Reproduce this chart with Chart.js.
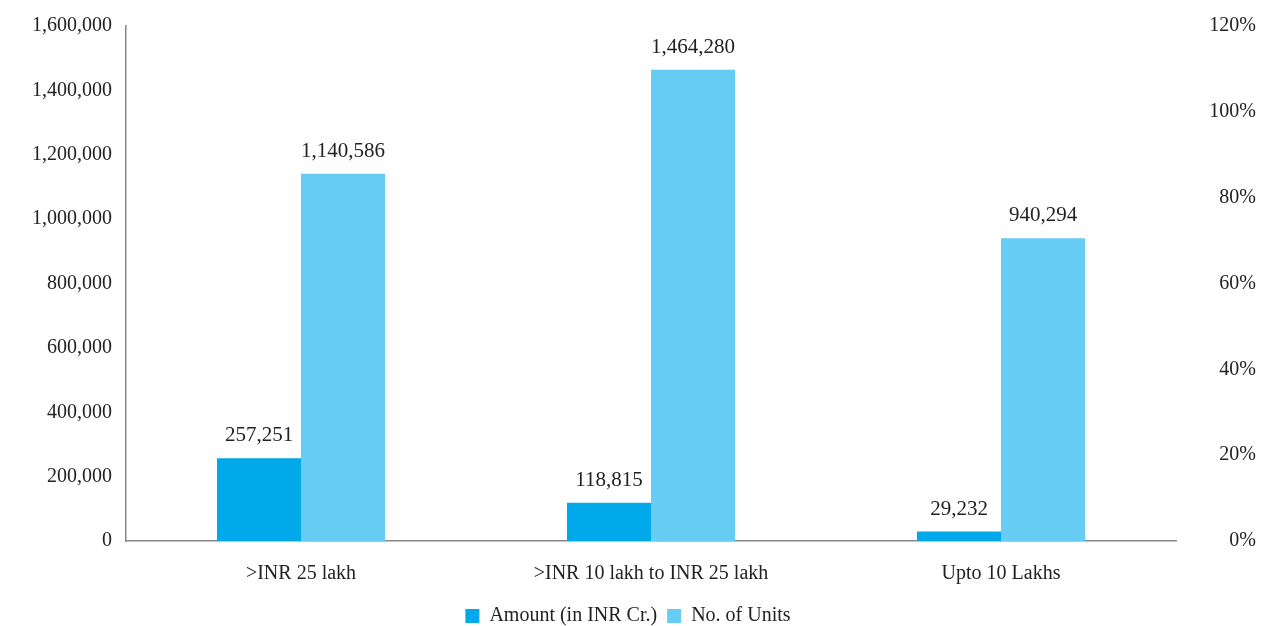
<!DOCTYPE html>
<html>
<head>
<meta charset="utf-8">
<script src="https://cdn.jsdelivr.net/npm/chart.js@4/dist/chart.umd.min.js"></script>
<style>
  html, body { margin: 0; padding: 0; background: #fff; }
  #wrap { width: 1266px; height: 626px; }
</style>
</head>
<body>
<div id="wrap"><canvas id="chart"></canvas></div>
<script>
const categories = ['>INR 25 lakh', '>INR 10 lakh to INR 25 lakh', 'Upto 10 Lakhs'];
const amount = [257251, 118815, 29232];
const units = [1140586, 1464280, 940294];
const leftTicks = [0, 200000, 400000, 600000, 800000, 1000000, 1200000, 1400000, 1600000];
const rightTicks = [0, 20, 40, 60, 80, 100, 120];

const fontFamily = "'Liberation Serif', 'DejaVu Serif', serif";

// labels above each bar
const barLabels = {
  id: 'barLabels',
  afterDatasetsDraw(chart) {
    const ctx = chart.ctx;
    ctx.save();
    ctx.font = '21px ' + fontFamily;
    ctx.fillStyle = '#222';
    ctx.textAlign = 'center';
    ctx.textBaseline = 'bottom';
    chart.data.datasets.forEach((ds, i) => {
      chart.getDatasetMeta(i).data.forEach((bar, j) => {
        ctx.fillText(ds.data[j].toLocaleString('en-US'), bar.x, bar.y - 12);
      });
    });
    ctx.restore();
  }
};

// make the legend strip shorter and sit it a bit lower
const legendFit = {
  id: 'legendFit',
  beforeLayout(chart) {
    const lg = chart.legend;
    if (lg && !lg._patched) {
      const orig = lg.fit;
      lg.fit = function () { orig.call(this); this.height = 41; };
      lg._patched = true;
    }
  },
  afterLayout(chart) {
    chart.legend.top += 11;
    chart.legend.bottom += 11;
  }
};

new Chart(document.getElementById('chart'), {
  type: 'bar',
  data: {
    labels: categories,
    datasets: [
      { label: 'Amount (in INR Cr.)', data: amount, backgroundColor: 'rgb(0,170,234)', yAxisID: 'y' },
      { label: 'No. of Units', data: units, backgroundColor: 'rgb(102,204,244)', yAxisID: 'y' }
    ]
  },
  options: {
    responsive: true,
    maintainAspectRatio: false,
    animation: false,
    layout: { padding: { top: 22, right: 10, left: 0, bottom: 0 } },
    datasets: { bar: { categoryPercentage: 0.48, barPercentage: 1 } },
    plugins: {
      legend: {
        position: 'bottom',
        labels: {
          font: { family: fontFamily, size: 20 },
          color: '#222',
          boxWidth: 14,
          boxHeight: 14,
          padding: 10
        }
      },
      tooltip: { enabled: false }
    },
    scales: {
      x: {
        afterFit: axis => { axis.height = 44; },
        grid: { display: false, drawTicks: false },
        border: { color: '#888', width: 1.5 },
        ticks: { font: { family: fontFamily, size: 20 }, color: '#222', padding: 21 }
      },
      y: {
        position: 'left',
        min: 0,
        max: 1600000,
        afterBuildTicks: axis => { axis.ticks = leftTicks.map(v => ({ value: v })); },
        afterFit: axis => { axis.width = 126; },
        grid: { display: false, drawTicks: false },
        border: { color: '#888', width: 1.5 },
        ticks: {
          font: { family: fontFamily, size: 20 },
          color: '#222',
          padding: 14,
          callback: v => v.toLocaleString('en-US')
        }
      },
      y1: {
        position: 'right',
        min: 0,
        max: 120,
        afterBuildTicks: axis => { axis.ticks = rightTicks.map(v => ({ value: v })); },
        afterFit: axis => { axis.width = 80; },
        grid: { display: false, drawTicks: false },
        border: { display: false },
        ticks: {
          font: { family: fontFamily, size: 20 },
          color: '#222',
          crossAlign: 'far',
          callback: v => v + '%'
        }
      }
    }
  },
  plugins: [legendFit, barLabels]
});
</script>
</body>
</html>
